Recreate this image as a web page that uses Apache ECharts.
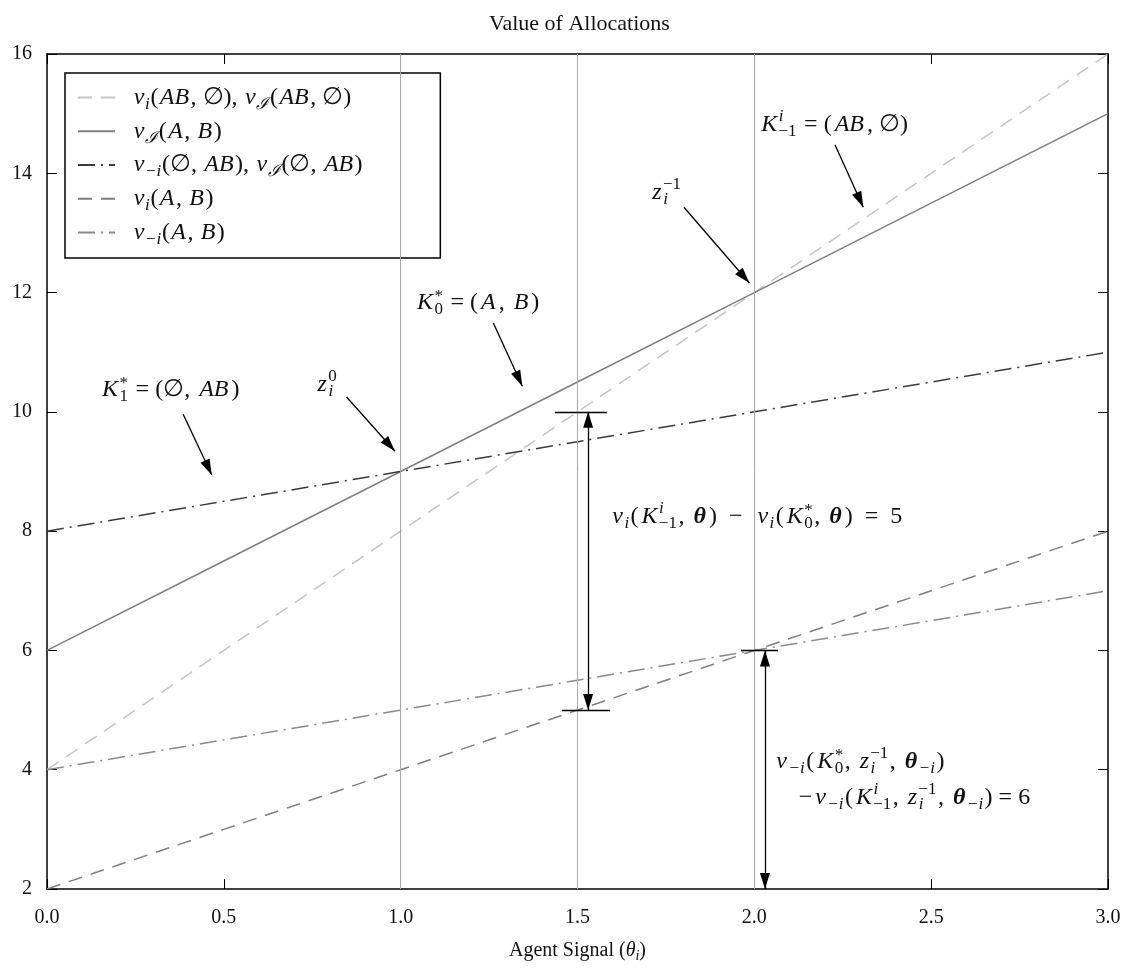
<!DOCTYPE html>
<html>
<head>
<meta charset="utf-8">
<script src="https://cdn.jsdelivr.net/npm/echarts@6/dist/echarts.min.js"></script>
<style>
  html, body { margin: 0; background: #fff; }
  #chart { width: 1127px; height: 974px; }
</style>
</head>
<body>
<div id="chart"></div>
<script>
// values at each x tick
const xVals = [0, 0.5, 1, 1.5, 2, 2.5, 3];
const viAB = [4, 6, 8, 10, 12, 14, 16];       // v_i(AB,∅), v_I(AB,∅)
const vIAB = [6, 7.5, 9, 10.5, 12, 13.5, 15]; // v_I(A,B)
const vmiAB = [8, 8.5, 9, 9.5, 10, 10.5, 11]; // v_-i(∅,AB), v_I(∅,AB)
const viA_B = [2, 3, 4, 5, 6, 7, 8];          // v_i(A,B)
const vmiA_B = [4, 4.5, 5, 5.5, 6, 6.5, 7];   // v_-i(A,B)
const guideX = [1, 1.5, 2];

const serif = '"Liberation Serif", "Times New Roman", serif';
const ink = '#111';

function tok(size, extra) {
  return Object.assign({ fontFamily: serif, fontSize: size, color: ink, lineHeight: 30 }, extra);
}
// math-like rich text styles; p = extra side padding on the main glyph runs
function mathRich(p) {
  const pad = [0, p, 0, p];
  return {
    g: { width: 13 },
    it: tok(24, { fontStyle: 'italic', padding: pad }),
    rm: tok(24, { padding: pad }),
    bf: tok(24, { fontStyle: 'italic', fontWeight: 'bold', padding: pad }),
    sbi: tok(17, { fontStyle: 'italic', padding: [14, 0, 0, 0] }),
    sbr: tok(17, { padding: [14, 0, 0, 0] }),
    spi: tok(17, { fontStyle: 'italic', padding: [0, 0, 16, 0] }),
    sbr5: tok(17, { padding: [14, 0, 0, -5] }),
    spr5: tok(17, { padding: [0, 0, 16, -5] }),
    ast: tok(17, { padding: [0, 0, 12, -8.5] })
  };
}
const rich = mathRich(1.5);
const legendRich = mathRich(0.7);

const legendText = {
  viAB: '{g| }{it|v}{sbi|i}{rm|(}{it|AB}{rm|, ∅), }{it|v}{sbi|ℐ}{rm|(}{it|AB}{rm|, ∅)}',
  vIAB: '{g| }{it|v}{sbi|ℐ}{rm|(}{it|A}{rm|, }{it|B}{rm|)}',
  vmiAB: '{g| }{it|v}{sbi|−i}{rm|(∅, }{it|AB}{rm|), }{it|v}{sbi|ℐ}{rm|(∅, }{it|AB}{rm|)}',
  viA_B: '{g| }{it|v}{sbi|i}{rm|(}{it|A}{rm|, }{it|B}{rm|)}',
  vmiA_B: '{g| }{it|v}{sbi|−i}{rm|(}{it|A}{rm|, }{it|B}{rm|)}'
};

// annotation texts with arrows (data coordinates)
const notes = [
  { text: '{it|K}{sbr|1}{ast|*}{rm| = (∅, }{it|AB}{rm|)}', at: [0.35, 10.37], from: [0.385, 9.96], to: [0.466, 8.94] },
  { text: '{it|z}{sbi|i}{spr5|0}', at: [0.79, 10.45], from: [0.847, 10.25], to: [0.984, 9.34] },
  { text: '{it|K}{sbr|0}{ast|*}{rm| = (}{it|A}{rm|, }{it|B}{rm|)}', at: [1.219, 11.83], from: [1.262, 11.49], to: [1.344, 10.43] },
  { text: '{it|z}{sbi|i}{spr5|−1}', at: [1.75, 13.67], from: [1.801, 13.43], to: [1.986, 12.16] },
  { text: '{it|K}{spi|i}{sbr5|−1}{rm| = (}{it|AB}{rm|, ∅)}', at: [2.227, 14.81], from: [2.228, 14.48], to: [2.308, 13.43] }
];
const leftNotes = [
  { text: '{it|v}{sbi|i}{rm|(}{it|K}{spi|i}{sbr5|−1}{rm|, }{bf|θ}{rm|)  −  }{it|v}{sbi|i}{rm|(}{it|K}{sbr|0}{ast|*}{rm|, }{bf|θ}{rm|)  =  5}', at: [1.594, 8.245] },
  { text: '{it|v}{sbi|−i}{rm|(}{it|K}{sbr|0}{ast|*}{rm|, }{it|z}{sbi|i}{spr5|−1}{rm|, }{bf|θ}{sbi|−i}{rm|)}', at: [2.058, 4.13] },
  { text: '{rm|−}{it|v}{sbi|−i}{rm|(}{it|K}{spi|i}{sbr5|−1}{rm|, }{it|z}{sbi|i}{spr5|−1}{rm|, }{bf|θ}{sbi|−i}{rm|) = 6}', at: [2.121, 3.53] }
];

const pts = arr => xVals.map((x, i) => [x, arr[i]]);
function line(name, arr, color, type) {
  return {
    name, type: 'line', data: pts(arr), symbol: 'none', showSymbol: false,
    lineStyle: { color, width: 1.5, type },
    itemStyle: { color },
    z: 3
  };
}

const head = { symbol: 'triangle', symbolSize: [10, 16], symbolOffset: [0, 8] };
const blk = { color: '#000', width: 1.3, type: 'solid' };
const arrows = notes.map(n => [
  { coord: n.from, symbol: 'none', lineStyle: blk },
  Object.assign({ coord: n.to }, head)
]);
// vertical difference arrows, taken from the series at x = 1.5 and x = 2
const d1 = 1.53, d2 = 2.03, yMin = 2;
arrows.push([Object.assign({ coord: [d1, viA_B[3]], lineStyle: blk }, head), Object.assign({ coord: [d1, viAB[3]] }, head)]);
arrows.push([Object.assign({ coord: [d2, yMin], lineStyle: blk }, head), Object.assign({ coord: [d2, vmiA_B[4]] }, head)]);
const caps = [
  [{ coord: [1.436, viAB[3]], lineStyle: blk }, { coord: [1.583, viAB[3]] }],
  [{ coord: [1.456, viA_B[3]], lineStyle: blk }, { coord: [1.592, viA_B[3]] }],
  [{ coord: [1.962, vmiA_B[4]], lineStyle: blk }, { coord: [2.067, vmiA_B[4]] }]
];

const series = [
  line('viAB', viAB, '#c4c4c4', [14, 9]),
  line('vIAB', vIAB, '#7f7f7f', 'solid'),
  line('vmiAB', vmiAB, '#3a3a3a', [17, 6, 2, 6]),
  line('viA_B', viA_B, '#7f7f7f', [14, 9]),
  line('vmiA_B', vmiA_B, '#8a8a8a', [17, 6, 2, 6])
];
series[4].markLine = {
  silent: true, symbol: 'none', animation: false,
  label: { show: false },
  data: guideX.map(x => ({ xAxis: x, lineStyle: { color: '#a8a8a8', width: 1, type: 'solid' } }))
    .concat(arrows, caps)
};
series[4].markPoint = {
  silent: true, symbol: 'circle', symbolSize: 0, animation: false,
  label: { show: true, color: ink, rich },
  data: notes.map(n => ({ coord: n.at, label: { position: 'inside', formatter: () => n.text } }))
    .concat(leftNotes.map(n => ({ coord: n.at, label: { position: 'right', distance: 0, formatter: () => n.text } })))
};

const axisCommon = {
  type: 'value',
  axisLine: { show: true, onZero: false, lineStyle: { color: '#000', width: 1.5 } },
  axisTick: { show: true, inside: true, length: 10, lineStyle: { color: '#000', width: 1 } },
  splitLine: { show: false }
};

const chart = echarts.init(document.getElementById('chart'));
chart.setOption({
  animation: false,
  backgroundColor: '#fff',
  title: {
    text: 'Value of Allocations', left: 484, top: 8,
    textStyle: { fontFamily: serif, fontSize: 22, fontWeight: 'normal', color: ink }
  },
  grid: { left: 47, right: 19, top: 54, bottom: 85 },
  legend: {
    left: 65, top: 73, orient: 'vertical',
    data: ['viAB', 'vIAB', 'vmiAB', 'viA_B', 'vmiA_B'],
    backgroundColor: '#fff', borderColor: '#000', borderWidth: 1.5, borderRadius: 0,
    padding: [9, 77, 10, 12], itemGap: 2.75, itemWidth: 37, itemHeight: 14,
    selectedMode: false,
    itemStyle: { color: 'rgba(0,0,0,0)', borderColor: 'rgba(0,0,0,0)', borderWidth: 0 },
    formatter: name => legendText[name],
    textStyle: { fontFamily: serif, fontSize: 24, color: ink, lineHeight: 30, rich: legendRich }
  },
  xAxis: [
    Object.assign({}, axisCommon, {
      min: 0, max: 3, interval: 0.5,
      name: 'Agent Signal ({t|θ}{s|i})', nameLocation: 'middle', nameGap: 50,
      nameTextStyle: {
        fontFamily: serif, fontSize: 20, color: ink,
        rich: {
          t: { fontFamily: serif, fontSize: 20, fontStyle: 'italic', color: ink },
          s: { fontFamily: serif, fontSize: 14, fontStyle: 'italic', color: ink, padding: [10, 0, 0, 0] }
        }
      },
      axisLabel: { margin: 19, fontFamily: serif, fontSize: 20, color: ink, formatter: v => v.toFixed(1) }
    }),
    Object.assign({}, axisCommon, { position: 'top', min: 0, max: 3, interval: 0.5, axisLabel: { show: false } })
  ],
  yAxis: [
    Object.assign({}, axisCommon, {
      min: 2, max: 16, interval: 2,
      axisLabel: { margin: 15, fontFamily: serif, fontSize: 20, color: ink }
    }),
    Object.assign({}, axisCommon, { position: 'right', min: 2, max: 16, interval: 2, axisLabel: { show: false } })
  ],
  series
});
</script>
</body>
</html>
